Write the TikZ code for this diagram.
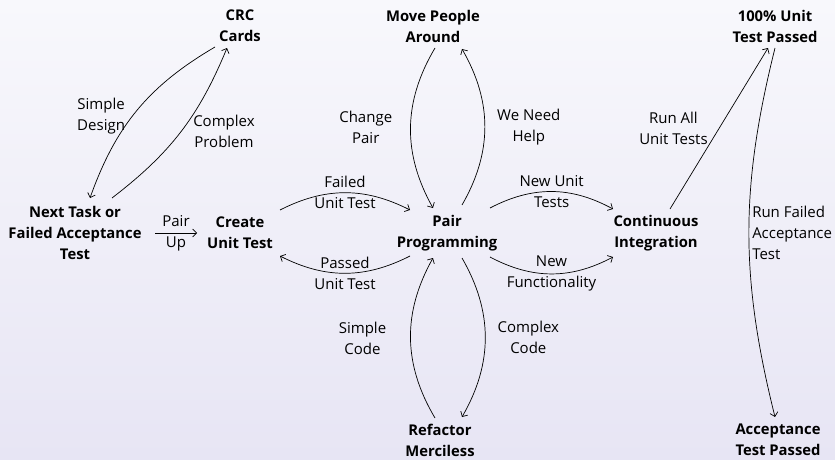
\documentclass[tikz,border=0pt]{standalone}
\usepackage{fontspec}
\setmainfont{Open Sans}
\usetikzlibrary{arrows.meta}
\definecolor{bgtop}{RGB}{248,248,252}
\definecolor{bgbot}{RGB}{231,229,244}

\begin{document}
\begin{tikzpicture}[x=1pt, y=1pt, >={Straight Barb[length=4pt,width=8pt]}, line width=0.7pt,
  box/.style={font=\fontsize{14.8}{21}\selectfont\bfseries, align=center, inner sep=2pt},
  lbl/.style={font=\fontsize{15}{21}\selectfont, align=center, inner sep=2pt}]
  % --- fondo ---
  \shade[top color=bgtop, bottom color=bgbot] (0,0) rectangle (835,-460);
  \useasboundingbox (0,0) rectangle (835,-460);

  % --- estados ---
  \node[box] (next) at (75,-233) {Next Task or\\Failed Acceptance\\Test};
  \node[box] (crc)  at (240,-26) {CRC\\Cards};
  \node[box] (cut)  at (240,-233) {Create\\Unit Test};
  \node[box] (pp)   at (447,-233) {Pair\\Programming};
  \node[box] (mpa)  at (433,-26) {Move People\\Around};
  \node[box] (rm)   at (440,-440) {Refactor\\Merciless};
  \node[box] (ci)   at (656,-233) {Continuous\\Integration};
  \node[box] (utp)  at (775,-26) {100\% Unit\\Test Passed};
  \node[box] (atp)  at (778,-440) {Acceptance\\Test Passed};

  % --- izquierda: tarjetas CRC ---
  \draw[->] ([shift={(-25,-21)}]crc.center) to[bend right=20]
    node[lbl, midway, left=10pt, yshift=-6pt] {Simple\\Design} ([shift={(15,35)}]next.center);
  \draw[->] ([shift={(37,35)}]next.center) to[bend right=15]
    node[lbl, midway, right=10pt] {Complex\\Problem} ([shift={(-13,-22)}]crc.center);
  \draw[->] ([xshift=80]next.center) -- node[lbl, midway] {Pair\\Up} ([xshift=-43]cut.center);

  % --- centro: programacion en pareja ---
  \draw[->] ([shift={(40,23)}]cut.center) to[bend left=27]
    node[lbl, midway] {Failed\\Unit Test} ([shift={(-37,23)}]pp.center);
  \draw[->] ([shift={(-37,-23)}]pp.center) to[bend left=27]
    node[lbl, midway] {Passed\\Unit Test} ([shift={(40,-23)}]cut.center);
  \draw[->] ([shift={(15,28)}]pp.center) to[bend right=30]
    node[lbl, midway, right=10pt] {We Need\\Help} ([shift={(29,-23)}]mpa.center);
  \draw[->] ([shift={(2,-22)}]mpa.center) to[bend right=30]
    node[lbl, midway, left=16pt] {Change\\Pair} ([shift={(-14,25)}]pp.center);
  \draw[->] ([shift={(15,-25)}]pp.center) to[bend left=30]
    node[lbl, midway, right=10pt] {Complex\\Code} ([shift={(22,23)}]rm.center);
  \draw[->] ([shift={(-5,22)}]rm.center) to[bend left=30]
    node[lbl, midway, left=22pt] {Simple\\Code} ([shift={(-14,-25)}]pp.center);

  % --- derecha: integracion ---
  \draw[->] ([shift={(43,25)}]pp.center) to[bend left=28]
    node[lbl, midway] {New Unit\\Tests} ([shift={(-43,24)}]ci.center);
  \draw[->] ([shift={(43,-24)}]pp.center) to[bend right=28]
    node[lbl, midway] {New\\Functionality} ([shift={(-43,-24)}]ci.center);
  \draw[->] ([shift={(14,24)}]ci.center) --
    node[lbl, midway, left=9pt] {Run All\\Unit Tests} ([shift={(-7,-22)}]utp.center);
  \draw[->] ([shift={(0,-22)}]utp.center) to[bend right=14]
    node[lbl, midway, right=1pt, align=left] {Run Failed\\Acceptance\\Test} ([shift={(-3,23)}]atp.center);
\end{tikzpicture}
\end{document}
